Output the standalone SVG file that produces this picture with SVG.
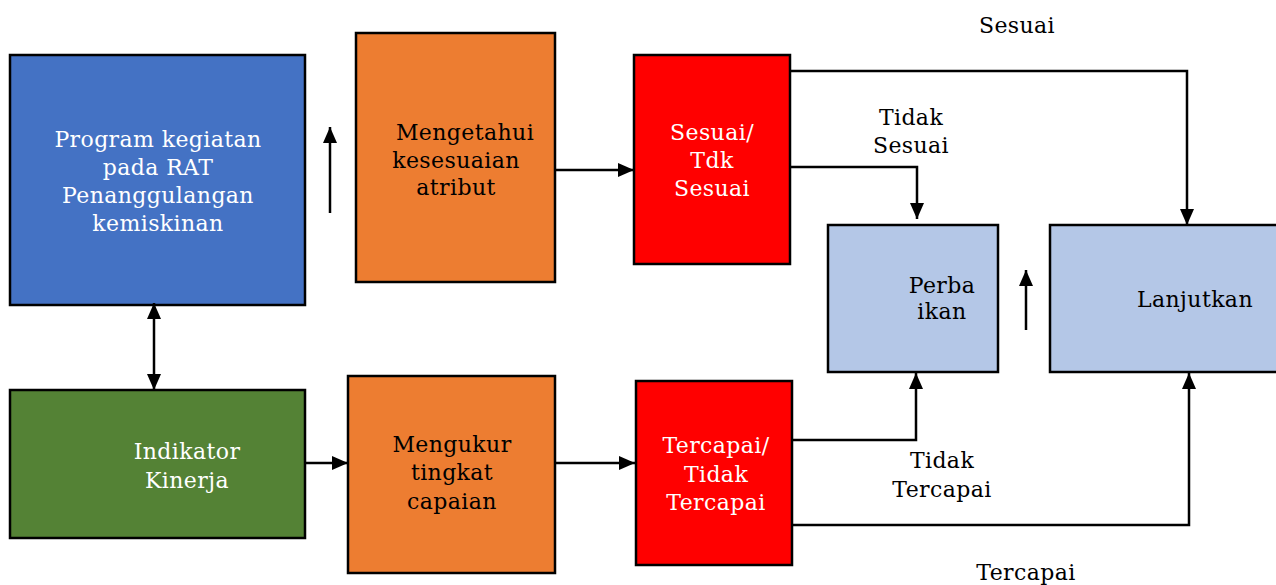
<svg xmlns="http://www.w3.org/2000/svg" width="1276" height="585" viewBox="0 0 1276 585">
  <defs>
    <marker id="arrow" viewBox="0 0 16 14" refX="16" refY="7" markerWidth="16" markerHeight="14" markerUnits="userSpaceOnUse" orient="auto-start-reverse">
      <path d="M0,0 L16,7 L0,14 Z" fill="#000"/>
    </marker>
    <style>
      .box { stroke: #000; stroke-width: 2.5; }
      .blue { fill: #4472C4; }
      .orange { fill: #ED7D31; }
      .red { fill: #FF0000; }
      .green { fill: #548235; }
      .pale { fill: #B4C7E7; }
      .t { font-family: "DejaVu Serif", "Liberation Serif", serif; font-size: 22px; letter-spacing: 0.4px; text-anchor: middle; fill: #000; }
      .w { fill: #fff; }
      .ln { fill: none; stroke: #000; stroke-width: 2.5; }
      .ln-a { fill: none; stroke: #000; stroke-width: 2.5; marker-end: url(#arrow); }
    </style>
  </defs>
  <rect width="1276" height="585" fill="#fff"/>

  <g id="program">
    <rect class="box blue" x="10" y="55" width="295" height="250"/>
    <text class="t w" x="158" y="147">Program kegiatan</text>
    <text class="t w" x="158" y="175">pada RAT</text>
    <text class="t w" x="158" y="203">Penanggulangan</text>
    <text class="t w" x="158" y="231">kemiskinan</text>
  </g>

  <g id="mengetahui">
    <rect class="box orange" x="356" y="33" width="199" height="249"/>
    <text class="t" x="465" y="140">Mengetahui</text>
    <text class="t" x="456" y="168">kesesuaian</text>
    <text class="t" x="456" y="195">atribut</text>
  </g>

  <g id="sesuai-tdk">
    <rect class="box red" x="634" y="55" width="156" height="209"/>
    <text class="t w" x="712" y="140">Sesuai/</text>
    <text class="t w" x="712" y="168">Tdk</text>
    <text class="t w" x="712" y="196">Sesuai</text>
  </g>

  <g id="perbaikan">
    <rect class="box pale" x="828" y="225" width="170" height="147"/>
    <text class="t" x="942" y="293">Perba</text>
    <text class="t" x="942" y="319">ikan</text>
  </g>

  <g id="lanjutkan">
    <rect class="box pale" x="1050" y="225" width="240" height="147"/>
    <text class="t" x="1195" y="307">Lanjutkan</text>
  </g>

  <g id="indikator">
    <rect class="box green" x="10" y="390" width="295" height="148"/>
    <text class="t w" x="187" y="459">Indikator</text>
    <text class="t w" x="187" y="488">Kinerja</text>
  </g>

  <g id="mengukur">
    <rect class="box orange" x="348" y="376" width="207" height="197"/>
    <text class="t" x="452" y="452">Mengukur</text>
    <text class="t" x="452" y="480">tingkat</text>
    <text class="t" x="452" y="509">capaian</text>
  </g>

  <g id="tercapai-tidak">
    <rect class="box red" x="636" y="381" width="156" height="184"/>
    <text class="t w" x="716" y="453">Tercapai/</text>
    <text class="t w" x="716" y="482">Tidak</text>
    <text class="t w" x="716" y="510">Tercapai</text>
  </g>

  <g id="connectors">
    <line class="ln-a" x1="330" y1="213" x2="330" y2="127"/>
    <line class="ln-a" x1="555" y1="170" x2="634" y2="170"/>
    <polyline class="ln-a" points="790,71 1187,71 1187,225"/>
    <polyline class="ln-a" points="790,167 917,167 917,219"/>
    <line class="ln-a" x1="1026" y1="330" x2="1026" y2="270"/>
    <line class="ln" x1="154" y1="303" x2="154" y2="390" marker-start="url(#arrow)" marker-end="url(#arrow)"/>
    <line class="ln-a" x1="305" y1="463" x2="348" y2="463"/>
    <line class="ln-a" x1="555" y1="463" x2="635" y2="463"/>
    <polyline class="ln-a" points="792,440 916,440 916,373"/>
    <polyline class="ln-a" points="792,525 1189,525 1189,373"/>
  </g>

  <g id="labels">
    <text class="t" x="1017" y="33">Sesuai</text>
    <text class="t" x="911" y="125">Tidak</text>
    <text class="t" x="911" y="153">Sesuai</text>
    <text class="t" x="942" y="468">Tidak</text>
    <text class="t" x="942" y="497">Tercapai</text>
    <text class="t" x="1026" y="580">Tercapai</text>
  </g>
</svg>
